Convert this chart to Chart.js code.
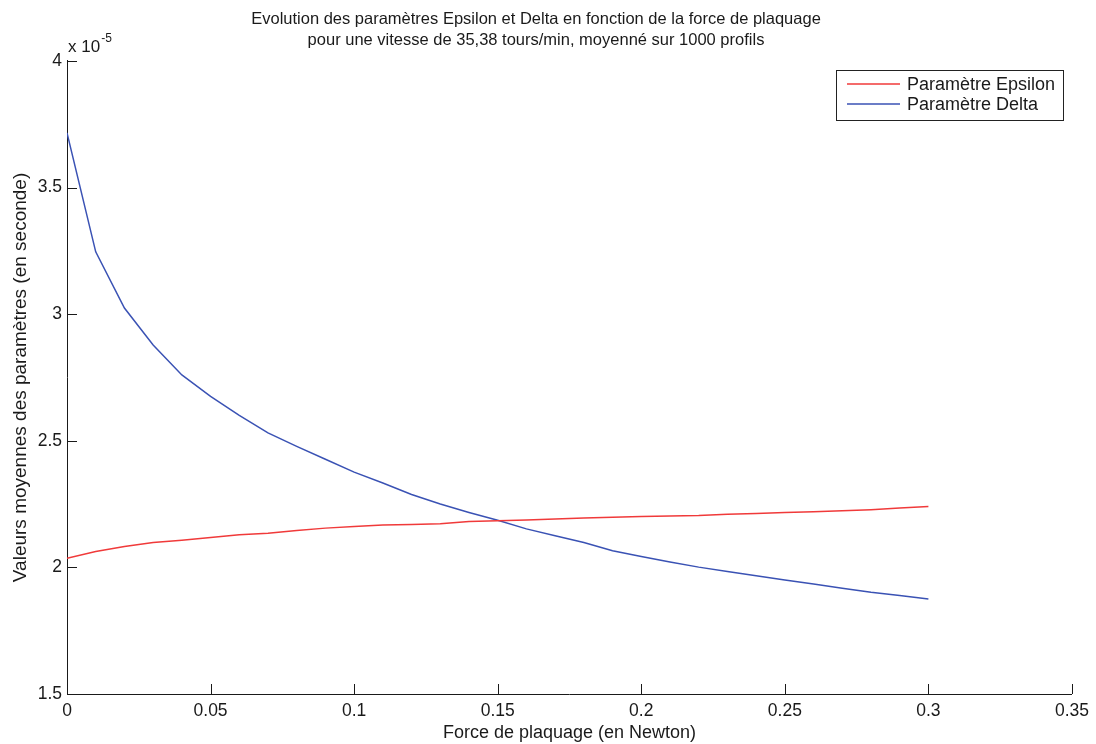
<!DOCTYPE html>
<html>
<head>
<meta charset="utf-8">
<script src="https://cdn.jsdelivr.net/npm/chart.js@4.4.1/dist/chart.umd.min.js"></script>
<style>
  html, body { margin: 0; padding: 0; background: #fff; }
  #wrap { width: 1096px; height: 744px; }
</style>
</head>
<body>
<div id="wrap"><canvas id="forceChart" width="1096" height="744"></canvas></div>
<script>
// force de plaquage (N)
var forces = [0, 0.01, 0.02, 0.03, 0.04, 0.05, 0.06, 0.07, 0.08, 0.09, 0.10,
  0.11, 0.12, 0.13, 0.14, 0.15, 0.16, 0.17, 0.18, 0.19, 0.20,
  0.21, 0.22, 0.23, 0.24, 0.25, 0.26, 0.27, 0.28, 0.29, 0.30];

// values in units of 1e-5 s
var epsilon = [2.036, 2.063, 2.082, 2.098, 2.107, 2.118, 2.129, 2.135, 2.146, 2.155, 2.161,
  2.167, 2.169, 2.172, 2.181, 2.184, 2.187, 2.191, 2.195, 2.198, 2.201,
  2.203, 2.205, 2.210, 2.213, 2.217, 2.220, 2.224, 2.228, 2.234, 2.240];

var delta = [3.716, 3.246, 3.024, 2.878, 2.760, 2.675, 2.600, 2.531, 2.478, 2.427, 2.376,
  2.333, 2.288, 2.250, 2.217, 2.186, 2.152, 2.125, 2.098, 2.066, 2.043,
  2.021, 2.001, 1.984, 1.967, 1.950, 1.934, 1.918, 1.902, 1.889, 1.875];

var seriesNames = ['Paramètre Epsilon', 'Paramètre Delta'];
var xTicks = [0, 0.05, 0.1, 0.15, 0.2, 0.25, 0.3, 0.35];
var yTicks = [1.5, 2, 2.5, 3, 3.5, 4];

var FONT = "'Liberation Sans', Arial, sans-serif";
var INK = '#1a1a1a';

function toPoints(ys) {
  return forces.map(function(f, i) { return { x: f, y: ys[i] }; });
}

// MATLAB style: ticks pointing inward, exponent label, framed legend
var matlabBits = {
  id: 'matlabBits',
  afterDraw: function(chart) {
    var ctx = chart.ctx;
    var xs = chart.scales.x, ys = chart.scales.y;
    var a = chart.chartArea;
    ctx.save();
    ctx.strokeStyle = INK;
    ctx.lineWidth = 1;
    ctx.beginPath();
    xTicks.forEach(function(v) {
      var px = Math.round(xs.getPixelForValue(v)) + 0.5;
      ctx.moveTo(px, a.bottom); ctx.lineTo(px, a.bottom - 10);
    });
    yTicks.forEach(function(v) {
      var py = Math.round(ys.getPixelForValue(v)) + 0.5;
      ctx.moveTo(a.left, py); ctx.lineTo(a.left + 10, py);
    });
    ctx.stroke();

    // x 10^-5
    ctx.fillStyle = INK;
    ctx.textBaseline = 'alphabetic';
    ctx.textAlign = 'left';
    ctx.font = '17px ' + FONT;
    ctx.fillText('x 10', a.left + 1, a.top - 9);
    var w = ctx.measureText('x 10').width;
    ctx.font = '12px ' + FONT;
    ctx.fillText('-5', a.left + 2 + w, a.top - 19);

    // legend box
    var bx = 836, by = 70, bw = 227, bh = 50;
    ctx.fillStyle = '#fff';
    ctx.fillRect(bx, by, bw, bh);
    ctx.strokeStyle = '#222';
    ctx.strokeRect(bx + 0.5, by + 0.5, bw, bh);
    ctx.font = '18px ' + FONT;
    ctx.textBaseline = 'middle';
    chart.data.datasets.forEach(function(ds, i) {
      var ly = by + 14 + i * 20;
      ctx.strokeStyle = ds.borderColor;
      ctx.lineWidth = 1.5;
      ctx.beginPath();
      ctx.moveTo(bx + 11, ly); ctx.lineTo(bx + 64, ly);
      ctx.stroke();
      ctx.fillStyle = INK;
      ctx.fillText(ds.label, bx + 71, ly + 1);
    });
    ctx.restore();
  }
};

var ctx = document.getElementById('forceChart').getContext('2d');
var chart = new Chart(ctx, {
  type: 'line',
  data: {
    datasets: [{
      label: seriesNames[0],
      data: toPoints(epsilon),
      borderColor: '#f03a3a',
      borderWidth: 1.5,
      pointRadius: 0,
      tension: 0
    },
    {
      label: seriesNames[1],
      data: toPoints(delta),
      borderColor: '#3a52b4',
      borderWidth: 1.5,
      pointRadius: 0,
      tension: 0
    }]
  },
  options: {
    responsive: false,
    animation: false,
    layout: { padding: { top: 0, right: 24, bottom: 0, left: 0 } },
    plugins: {
      legend: { display: false },
      tooltip: { enabled: false },
      title: {
        display: true,
        text: ['Evolution des paramètres Epsilon et Delta en fonction de la force de plaquage',
               'pour une vitesse de 35,38 tours/min, moyenné sur 1000 profils'],
        color: INK,
        font: { family: FONT, size: 16.5, weight: 'normal', lineHeight: 1.33 },
        padding: { top: 8, bottom: 9 }
      }
    },
    scales: {
      x: {
        type: 'linear',
        min: 0,
        max: 0.35,
        afterBuildTicks: function(s) { s.ticks = xTicks.map(function(v) { return { value: v }; }); },
        afterFit: function(s) { s.height = 50; },
        grid: { display: false, drawTicks: false },
        border: { display: true, color: INK, width: 1 },
        ticks: {
          color: INK,
          padding: 7,
          maxRotation: 0,
          font: { family: FONT, size: 17.5 },
          callback: function(v) { return String(+v.toFixed(2)); }
        },
        title: {
          display: true,
          text: 'Force de plaquage (en Newton)',
          color: INK,
          font: { family: FONT, size: 18 },
          padding: { top: 0, bottom: 0 }
        }
      },
      y: {
        min: 1.5,
        max: 4,
        afterBuildTicks: function(s) { s.ticks = yTicks.map(function(v) { return { value: v }; }); },
        afterFit: function(s) { s.width = 67; },
        grid: { display: false, drawTicks: false },
        border: { display: true, color: INK, width: 1 },
        ticks: {
          color: INK,
          padding: 5,
          font: { family: FONT, size: 17.5 },
          callback: function(v) { return String(+v.toFixed(1)); }
        },
        title: {
          display: true,
          text: 'Valeurs moyennes des paramètres (en seconde)',
          color: INK,
          font: { family: FONT, size: 19 },
          padding: { top: 9, bottom: 0 }
        }
      }
    }
  },
  plugins: [matlabBits]
});
</script>
</body>
</html>
